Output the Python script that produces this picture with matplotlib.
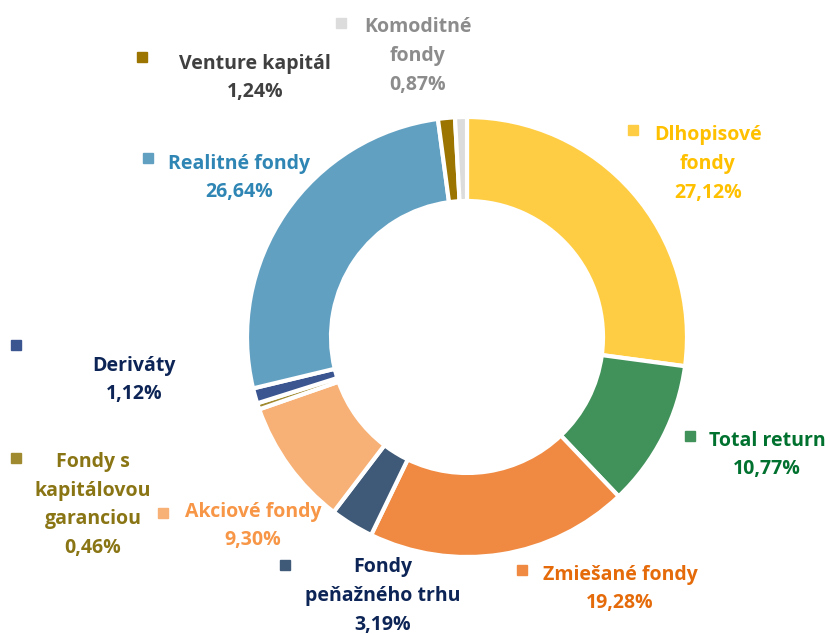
import matplotlib.pyplot as plt

plt.rcParams['font.family'] = ['Open Sans', 'DejaVu Sans']

# data
labels = ['Dlhopisové\nfondy', 'Total return', 'Zmiešané fondy', 'Fondy\npeňažného trhu',
          'Akciové fondy', 'Fondy s\nkapitálovou\ngaranciou', 'Deriváty',
          'Realitné fondy', 'Venture kapitál', 'Komoditné\nfondy']
shares = [27.12, 10.77, 19.28, 3.19, 9.30, 0.46, 1.12, 26.64, 1.24, 0.87]
slice_colors = ['#FFCD44', '#41915B', '#F08A42', '#3F5A78', '#F7B075',
                '#A08A30', '#3B5590', '#62A0C2', '#9C7400', '#DCDCDC']
text_colors = ['#FFC000', '#00712E', '#E56B0A', '#0D2556', '#F79646',
               '#8A7514', '#0D2556', '#2F86B4', '#404040', '#8C8C8C']

# label layout (pixel coords, y from top): text centre, marker
text_pos = [(708, 164), (767, 455), (620, 589), (383, 596), (253, 526),
            (93, 505), (134, 380), (239, 178), (255, 78), (418, 56)]
marker_pos = [(633, 130), (690, 436), (522, 570), (285, 565), (163, 513),
              (16, 458), (16, 345), (148, 158), (142, 57), (341, 23)]

W, H = 830, 635
fig = plt.figure(figsize=(W / 100, H / 100), dpi=100)
ax = fig.add_axes([0, 0, 1, 1])

ax.pie(shares, colors=slice_colors, startangle=90, counterclock=False,
       center=(467, H - 337), radius=220, frame=True,
       wedgeprops=dict(width=84, edgecolor='white', linewidth=3))
ax.set_xlim(0, W)
ax.set_ylim(0, H)
ax.set_aspect('equal')
ax.axis('off')

for lab, val, tc, sc, (tx, ty), (mx, my) in zip(labels, shares, text_colors, slice_colors,
                                                  text_pos, marker_pos):
    txt = lab + '\n' + f'{val:.2f}'.replace('.', ',') + '%'
    ax.text(tx, H - ty, txt, ha='center', va='center', color=tc,
            fontsize=14, fontweight='bold', linespacing=1.58)
    ax.plot(mx, H - my, marker='s', markersize=6.5, color=sc, linestyle='none')

fig.savefig('out.png', dpi=100)
